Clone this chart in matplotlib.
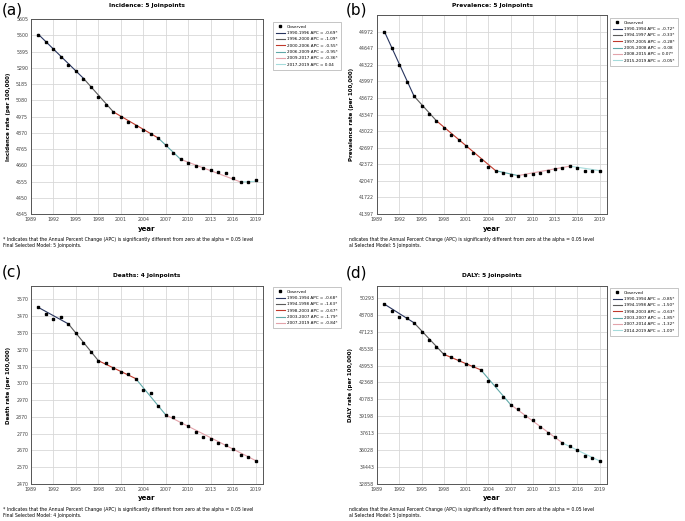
import numpy as np
import matplotlib
matplotlib.use('Agg')
import matplotlib.pyplot as plt

years = list(range(1990, 2020))

# observed rates
incidence = [5504, 5458, 5409, 5358, 5309, 5267, 5220, 5163, 5104, 5048,
             5006, 4974, 4942, 4913, 4887, 4864, 4833, 4788, 4738, 4699,
             4673, 4658, 4645, 4632, 4619, 4611, 4578, 4550, 4555, 4563]
prevalence = [44972, 44647, 44309, 43984, 43711, 43516, 43360, 43223, 43075, 42950,
              42846, 42730, 42593, 42450, 42326, 42242, 42196, 42164, 42144, 42157,
              42177, 42203, 42242, 42281, 42307, 42333, 42307, 42248, 42242, 42242]
deaths = [3526, 3486, 3454, 3464, 3426, 3370, 3310, 3256, 3206, 3190,
          3160, 3136, 3126, 3096, 3032, 3010, 2936, 2884, 2868, 2832,
          2816, 2780, 2748, 2738, 2716, 2700, 2678, 2644, 2632, 2610]
daly = [49706, 49062, 48483, 48450, 47903, 47130, 46325, 45649, 45005, 44780,
        44458, 44072, 43910, 43492, 42461, 42100, 41037, 40242, 39924, 39257,
        38875, 38239, 37635, 37253, 36712, 36395, 36013, 35504, 35282, 35027]

# joinpoint years and fitted values there
inc_jp = [1990, 1996, 2000, 2006, 2009, 2017, 2019]
inc_fit = [5505, 5222, 5005, 4836, 4698, 4552, 4556]
prev_jp = [1990, 1994, 1997, 2005, 2008, 2015, 2019]
prev_fit = [44972, 43705, 43225, 42245, 42150, 42335, 42248]
death_jp = [1990, 1994, 1998, 2003, 2007, 2019]
death_fit = [3522, 3424, 3205, 3098, 2882, 2610]
daly_jp = [1990, 1994, 1998, 2003, 2007, 2014, 2019]
daly_fit = [49700, 47950, 45005, 43540, 40300, 36700, 35020]

inc_apc = ['-0.69*', '-1.09*', '-0.55*', '-0.95*', '-0.36*', '0.04']
prev_apc = ['-0.72*', '-0.33*', '-0.28*', '-0.08', '0.07*', '-0.05*']
death_apc = ['-0.68*', '-1.63*', '-0.67*', '-1.79*', '-0.84*']
daly_apc = ['-0.85*', '-1.50*', '-0.63*', '-1.85*', '-1.32*', '-1.00*']

seg_colors = ['#27345e', '#5a5a5a', '#c0392b', '#5fa8a8', '#e3a3aa', '#a5dcdc']

note1 = '* Indicates that the Annual Percent Change (APC) is significantly different from zero at the alpha = 0.05 level'
note1_cut = 'ndicates that the Annual Percent Change (APC) is significantly different from zero at the alpha = 0.05 level'

W, H = 685, 521
fig = plt.figure(figsize=(W / 100, H / 100), dpi=100)


def box(x0, y0, x1, y1):
    return [x0 / W, 1 - y1 / H, (x1 - x0) / W, (y1 - y0) / H]


def panel(rect, obs, jp, fit, apc, ylo, step, ntick, ytop, title, ylabel,
          tag, tag_xy, title_y, leg_anchor, notes, note_x, note_y, xlab_y):
    ax = fig.add_axes(box(*rect))
    for i in range(len(jp) - 1):
        ax.plot([jp[i], jp[i + 1]], [fit[i], fit[i + 1]], color=seg_colors[i], lw=0.8,
                label='%d-%d APC = %s' % (jp[i], jp[i + 1], apc[i]))
    ax.plot(years, obs, 's', color='black', ms=1.6, label='Observed', zorder=5)

    ax.set_xlim(1989, 2020)
    ax.set_ylim(ylo, ytop)
    ax.set_xticks(range(1989, 2020, 3))
    ax.set_yticks([ylo + step * k for k in range(ntick)])
    ax.tick_params(labelsize=3.4, length=0, pad=2, colors='#444444')
    ax.grid(True, color='#d8d8d8', lw=0.6)
    ax.set_axisbelow(True)
    for s in ax.spines.values():
        s.set_color('#555555')
        s.set_linewidth(0.7)

    ax.set_ylabel(ylabel, fontsize=4.0, fontweight='bold', labelpad=4)

    x0, y0, x1, y1 = rect
    cx = (x0 + x1) / 2 / W
    fig.text(cx, 1 - title_y / H, title, fontsize=4.2, fontweight='bold', ha='center', va='center')
    fig.text(cx, 1 - xlab_y / H, 'year', fontsize=5, fontweight='bold', ha='center', va='center')
    fig.text(tag_xy[0] / W, 1 - tag_xy[1] / H, tag, fontsize=11, ha='left', va='center')
    fig.text(note_x / W, 1 - note_y / H, notes[0], fontsize=3.3, ha='left', va='center')
    fig.text(note_x / W, 1 - (note_y + 6) / H, notes[1], fontsize=3.3, ha='left', va='center')

    handles, labels = ax.get_legend_handles_labels()
    handles = handles[-1:] + handles[:-1]
    labels = labels[-1:] + labels[:-1]
    leg = ax.legend(handles, labels, loc='upper left', bbox_to_anchor=leg_anchor,
                    fontsize=3.0, frameon=True, fancybox=False, handlelength=2.2,
                    borderpad=0.7, labelspacing=0.55, handletextpad=0.5, borderaxespad=0)
    leg.get_frame().set_edgecolor('#999999')
    leg.get_frame().set_linewidth(0.5)
    return ax


panel((31, 19, 263, 214), incidence, inc_jp, inc_fit, inc_apc, 4345, 105, 13, 5605,
      'Incidence: 5 Joinpoints', 'Incidence rate (per 100,000)', '(a)', (2, 10), 5,
      (1.043, 0.985), (note1, 'Final Selected Model: 5 Joinpoints.'), 3, 240, 229)

panel((377, 15, 607, 214), prevalence, prev_jp, prev_fit, prev_apc, 41397, 325, 12, 45297,
      'Prevalence: 5 Joinpoints', 'Prevalence rate (per 100,000)', '(b)', (346, 10), 5,
      (1.013, 0.985), (note1_cut, 'al Selected Model: 5 Joinpoints.'), 349, 240, 229)

panel((31, 286, 263, 484), deaths, death_jp, death_fit, death_apc, 2470, 100, 12, 3650,
      'Deaths: 4 Joinpoints', 'Death rate (per 100,000)', '(c)', (2, 272), 275,
      (1.043, 0.995), (note1, 'Final Selected Model: 4 Joinpoints.'), 3, 509, 498)

panel((377, 286, 607, 484), daly, daly_jp, daly_fit, daly_apc, 32858, 1585, 12, 51400,
      'DALY: 5 Joinpoints', 'DALY rate (per 100,000)', '(d)', (346, 273), 275,
      (1.013, 0.99), (note1_cut, 'al Selected Model: 5 Joinpoints.'), 349, 509, 498)

fig.savefig('out.png', dpi=100)
